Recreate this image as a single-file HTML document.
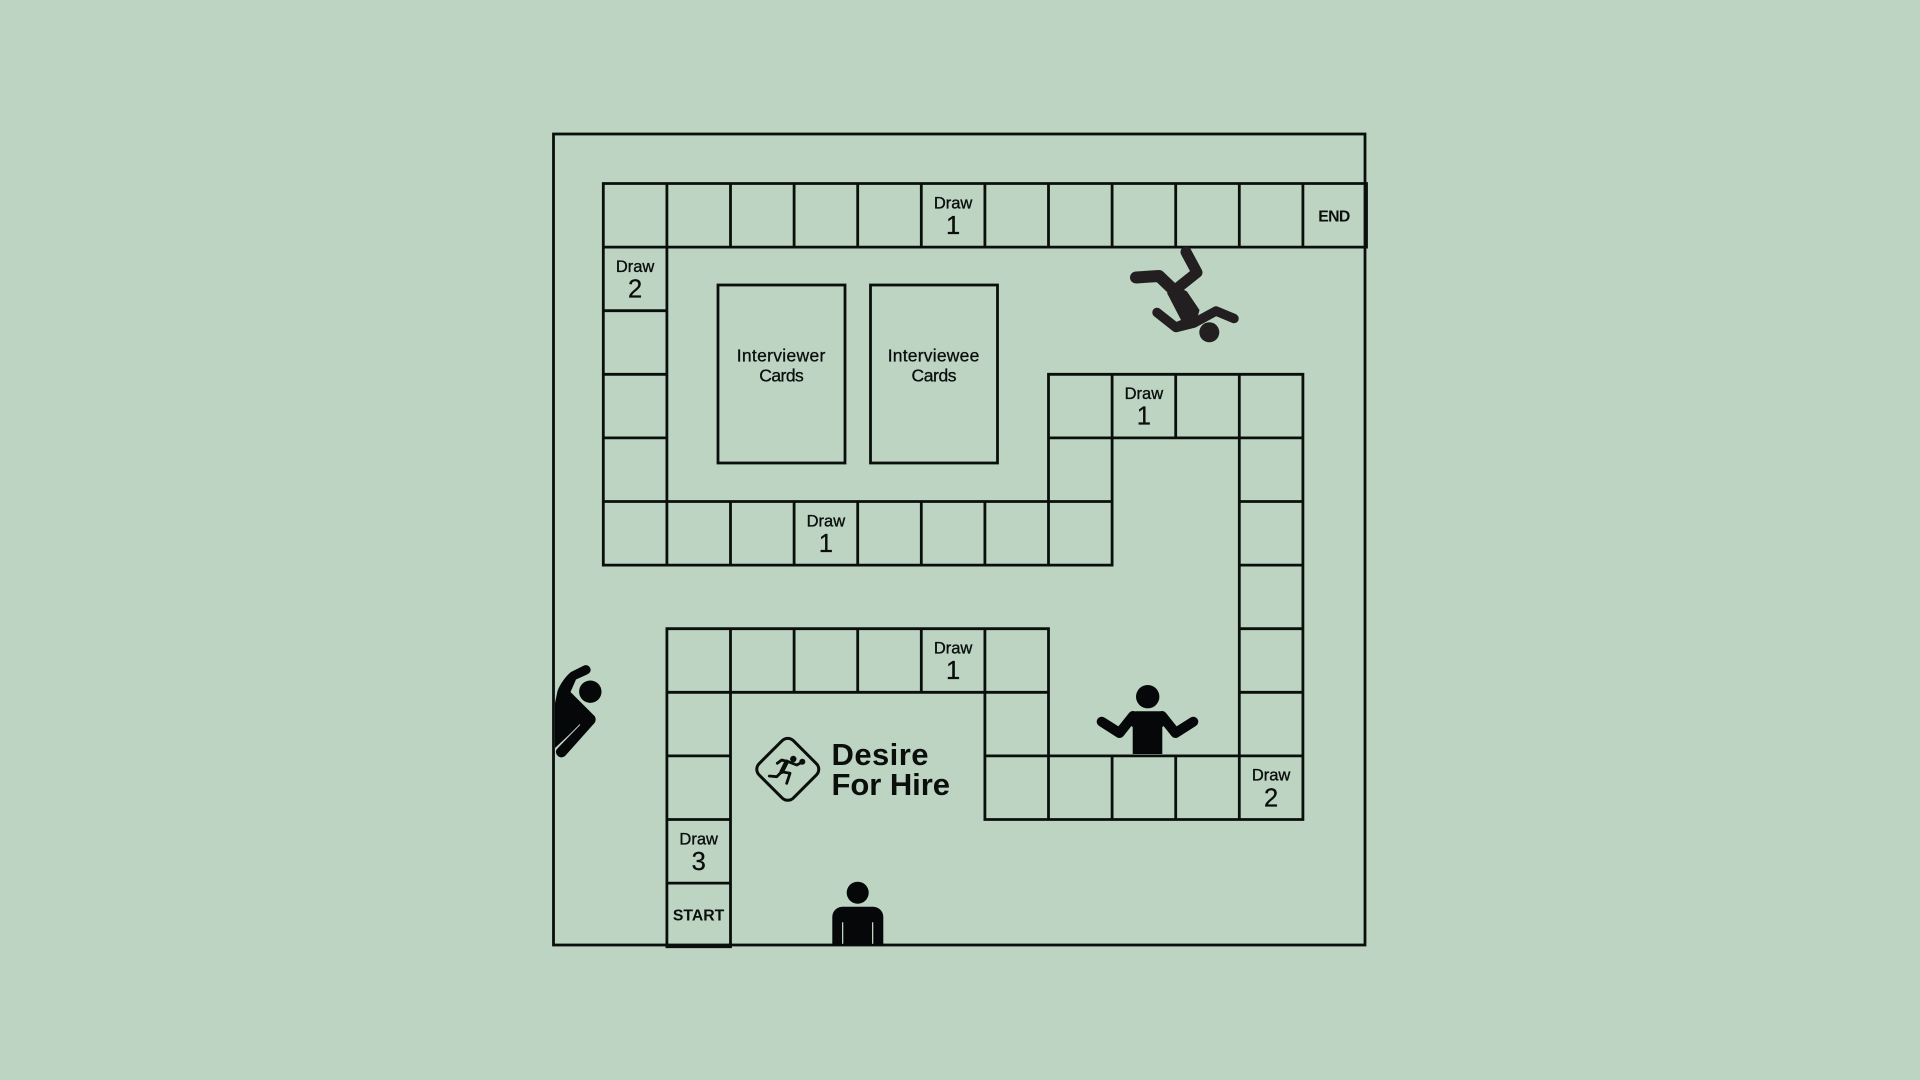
<!DOCTYPE html>
<html>
<head>
<meta charset="utf-8">
<title>Desire For Hire board</title>
<style>
html,body{margin:0;padding:0;background:#bdd4c3;}
svg{display:block;}
text{font-family:"Liberation Sans",sans-serif;fill:#0a0f0c;text-anchor:middle;}
.d{font-size:16.5px;stroke:#0a0f0c;stroke-width:.35;}
.n{font-size:25.5px;stroke:#0a0f0c;stroke-width:.3;}
.b{font-size:15.8px;font-weight:bold;}
.c{font-size:17.5px;stroke:#0a0f0c;stroke-width:.3;}
.l{font-size:31px;font-weight:bold;text-anchor:start;}
</style>
</head>
<body>
<svg width="1920" height="1080" viewBox="0 0 1920 1080" xmlns="http://www.w3.org/2000/svg">
<rect width="1920" height="1080" fill="#bdd4c3"/>
<rect x="553.5" y="134" width="811.5" height="811" fill="none" stroke="#0a0f0c" stroke-width="2.8"/>
<g transform="translate(.6 0)">
<path fill="none" stroke="#0a0f0c" stroke-width="2.8" stroke-linecap="square" d="
M602.7 183.5H1365.9 M602.7 247.1H1365.9
M602.7 310.7H666.3
M602.7 374.3H666.3 M1047.9 374.3H1302.3
M602.7 437.9H666.3 M1047.9 437.9H1302.3
M602.7 501.5H1111.5 M1238.7 501.5H1302.3
M602.7 565.1H1111.5 M1238.7 565.1H1302.3
M666.3 628.7H1047.9 M1238.7 628.7H1302.3
M666.3 692.3H1047.9 M1238.7 692.3H1302.3
M666.3 755.9H729.9 M984.3 755.9H1302.3
M666.3 819.5H729.9 M984.3 819.5H1302.3
M666.3 883.1H729.9
M666.3 946.7H729.9
M602.7 183.5V565.1
M666.3 183.5V565.1 M666.3 628.7V946.7
M729.9 183.5V247.1 M729.9 501.5V565.1 M729.9 628.7V946.7
M793.5 183.5V247.1 M793.5 501.5V565.1 M793.5 628.7V692.3
M857.1 183.5V247.1 M857.1 501.5V565.1 M857.1 628.7V692.3
M920.7 183.5V247.1 M920.7 501.5V565.1 M920.7 628.7V692.3
M984.3 183.5V247.1 M984.3 501.5V565.1 M984.3 628.7V819.5
M1047.9 183.5V247.1 M1047.9 374.3V565.1 M1047.9 628.7V819.5
M1111.5 183.5V247.1 M1111.5 374.3V565.1 M1111.5 755.9V819.5
M1175.1 183.5V247.1 M1175.1 374.3V437.9 M1175.1 755.9V819.5
M1238.7 183.5V247.1 M1238.7 374.3V819.5
M1302.3 183.5V247.1 M1302.3 374.3V819.5
M1365.9 183.5V247.1"/>
<text class="d" x="952.5" y="208.3">Draw</text><text class="n" x="952.5" y="233.9">1</text>
<text class="d" x="634.5" y="271.9">Draw</text><text class="n" x="634.5" y="297.5">2</text>
<text class="d" x="1143.3" y="399.1">Draw</text><text class="n" x="1143.3" y="424.7">1</text>
<text class="d" x="825.3" y="526.3">Draw</text><text class="n" x="825.3" y="551.9">1</text>
<text class="d" x="952.5" y="653.5">Draw</text><text class="n" x="952.5" y="679.1">1</text>
<text class="d" x="1270.5" y="780.7">Draw</text><text class="n" x="1270.5" y="806.3">2</text>
<text class="d" x="698.1" y="844.3">Draw</text><text class="n" x="698.1" y="869.9">3</text>
</g>
<rect x="718" y="285" width="127" height="178" fill="none" stroke="#0a0f0c" stroke-width="2.8"/>
<rect x="870.5" y="285" width="127" height="178" fill="none" stroke="#0a0f0c" stroke-width="2.8"/>

<text class="c" x="781" y="361.7" textLength="88.6">Interviewer</text>
<text class="c" x="781.5" y="381.7" textLength="44.6">Cards</text>
<text class="c" x="933.5" y="361.7" textLength="91.6">Interviewee</text>
<text class="c" x="934" y="381.7" textLength="45">Cards</text>

<text class="b" x="1334.3" y="221.3" textLength="32">END</text>
<text class="b" x="698.6" y="920.7" textLength="51.4">START</text>

<!-- falling figure -->
<g fill="none" stroke="#231f20" stroke-linecap="round" stroke-linejoin="round">
<polyline points="1186,252 1197,272.5 1175,290" stroke-width="11"/>
<polyline points="1136,277.5 1159,276 1181,297" stroke-width="12"/>
<polyline points="1157,312.5 1176,327.5 1194,323 1216,311 1234,318.5" stroke-width="9.5"/>
</g>
<path d="M1167 293 L1175 285 L1187 291.5 L1199.5 310 L1195 327 L1176 332 L1176 322 L1181 320Z" fill="#231f20"/>
<circle cx="1209.3" cy="332.3" r="10" fill="#231f20"/>

<!-- left figure -->
<path d="M555 703 L557.5 691 C560 684 566 676 571 672 L584 665.5 C588 664 591.5 668 590.5 671 C590 673 588 674 586 675 L576 679.5 L570.5 692 L594.5 716 C596 718 596 721 594.5 723 L565.5 755.5 C563 758 559.5 758 557.5 755.5 C555.5 753 555.5 751 557 749 L579.5 725 L555 748Z" fill="#050708"/>
<line x1="580" y1="724.5" x2="555.5" y2="749.5" stroke="#bdd4c3" stroke-width=".9"/>
<circle cx="590.3" cy="691.7" r="11.2" fill="#050708"/>

<!-- shrug figure -->
<circle cx="1147.7" cy="696.7" r="11.7" fill="#050708"/>
<path d="M1132.7 754 V727 L1126 722 L1130 715 C1132 712.5 1134 711.3 1137 711.3 H1158.5 C1161.5 711.3 1163.5 712.5 1165.5 715 L1169.5 722 L1162.3 727 V754Z" fill="#050708"/>
<g fill="none" stroke="#050708" stroke-width="10" stroke-linecap="round" stroke-linejoin="round">
<polyline points="1101.7,721.7 1119.5,733 1133,716"/>
<polyline points="1193.3,721.7 1175.5,733 1162,716"/>
</g>

<!-- standing person -->
<circle cx="857.7" cy="892.7" r="11" fill="#050708"/>
<path d="M832.3 945 V917 C832.3 911 837 906.7 843 906.7 H872.5 C878.5 906.7 883.3 911 883.3 917 V945Z" fill="#050708"/>
<rect x="842" y="922.3" width="1.3" height="21.5" fill="#bdd4c3"/>
<rect x="872" y="922.3" width="1.3" height="21.5" fill="#bdd4c3"/>

<!-- logo -->
<rect x="763.5" y="745" width="48.5" height="48.5" rx="8" transform="rotate(45 787.7 769.3)" fill="none" stroke="#0a0f0c" stroke-width="3"/>
<g fill="none" stroke="#0a0f0c" stroke-width="2.8" stroke-linecap="round" stroke-linejoin="round">
<polyline points="777.3,763.3 781.7,760 788.3,761.7 796.7,765 802.5,762"/>
<polyline points="786.7,761.7 781.7,771.7" stroke-width="4.5"/>
<polyline points="781.7,771.7 776.7,776.7 769.3,776"/>
<polyline points="781.7,771.7 790,773.3 786.7,783.3"/>
</g>
<circle cx="793.3" cy="759" r="3.2" fill="#0a0f0c"/>
<circle cx="802.3" cy="761.7" r="3" fill="#0a0f0c"/>
<text class="l" x="831.5" y="765" textLength="97">Desire</text>
<text class="l" x="831.5" y="795" textLength="118.5">For Hire</text>
</svg>
</body>
</html>
